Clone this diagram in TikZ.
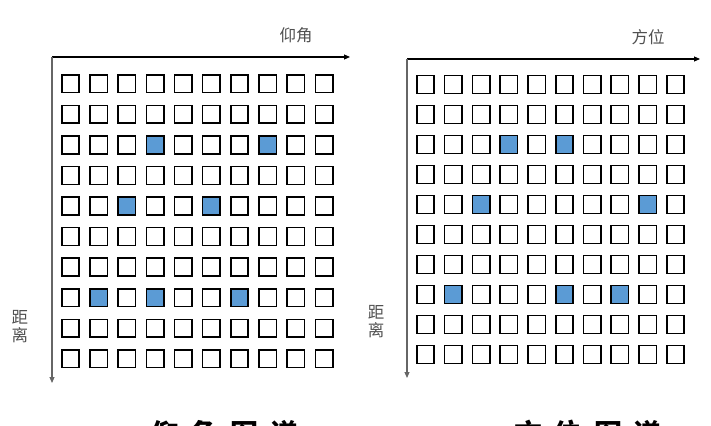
\documentclass[tikz,border=0pt]{standalone}
\usepackage{fontspec}
\newfontfamily\cjk{Noto Sans CJK SC}
\usetikzlibrary{arrows.meta,positioning}
\definecolor{cellblue}{RGB}{91,155,213}
\definecolor{labelgray}{RGB}{80,80,80}

\tikzset{
	cell/.style={draw=black, line width=1.6pt, fill=white, inner sep=0pt,
		minimum width=17.4pt, minimum height=17.8pt},
	hit/.style={cell, fill=cellblue},
	axis/.style={line width=1.1pt, -{Triangle[length=6pt,width=5pt]}},
	axislabel/.style={font=\cjk\fontsize{16.5}{18}\selectfont, text=labelgray, inner sep=0pt},
	title/.style={font=\cjk\bfseries\fontsize{28}{30}\selectfont, anchor=base, inner sep=0pt},
}

\begin{document}
\begin{tikzpicture}[x=1pt, y=-1pt]
	\useasboundingbox (0,0) rectangle (711,425);

	% marked cells (row/column)
	\foreach \r/\c in {3/4,3/8,5/3,5/6,8/2,8/4,8/7}
		\expandafter\gdef\csname hitL\r-\c\endcsname{};
	\foreach \r/\c in {3/4,3/6,5/3,5/9,8/2,8/6,8/8}
		\expandafter\gdef\csname hitR\r-\c\endcsname{};

	% left grid
	\foreach \r in {1,...,10}
		\foreach \c in {1,...,10} {
			\ifcsname hitL\r-\c\endcsname \def\shade{hit}\else\def\shade{cell}\fi
			\node[\shade] (L-\r-\c) at ({70.5+28.17*(\c-1)}, {83.75+30.56*(\r-1)}) {};
		}

	% right grid
	\foreach \r in {1,...,10}
		\foreach \c in {1,...,10} {
			\ifcsname hitR\r-\c\endcsname \def\shade{hit}\else\def\shade{cell}\fi
			\node[\shade] (R-\r-\c) at ({425.5+27.78*(\c-1)}, {84.5+30*(\r-1)}) {};
		}

	% axes
	\coordinate (Lo) at (52,57);
	\coordinate (Lx) at (350,57);
	\coordinate (Ly) at (52,383);
	\coordinate (Ro) at (407,59);
	\coordinate (Rx) at (700,59);
	\coordinate (Ry) at (407,378);

	\draw[axis] (Lo) -- (Lx);
	\draw[axis, draw=black!60, fill=black] (Lo) -- (Ly);
	\draw[axis] (Ro) -- (Rx);
	\draw[axis, draw=black!60, fill=black] (Ro) -- (Ry);

	% labels
	\node[axislabel] (elev) at (296,35) {仰角};
	\node[axislabel] (azim) at (648,37) {方位};
	\node[axislabel, align=center] (distL) at (20,327) {距\\离};
	\node[axislabel, align=center] (distR) at (376,322) {距\\离};

	\node[title] (titleL) at (225,444) {仰\hspace{12pt}角\hspace{12pt}图\hspace{12pt}谱};
	\node[title] (titleR) at (588,444) {方\hspace{12pt}位\hspace{12pt}图\hspace{12pt}谱};
\end{tikzpicture}
\end{document}
